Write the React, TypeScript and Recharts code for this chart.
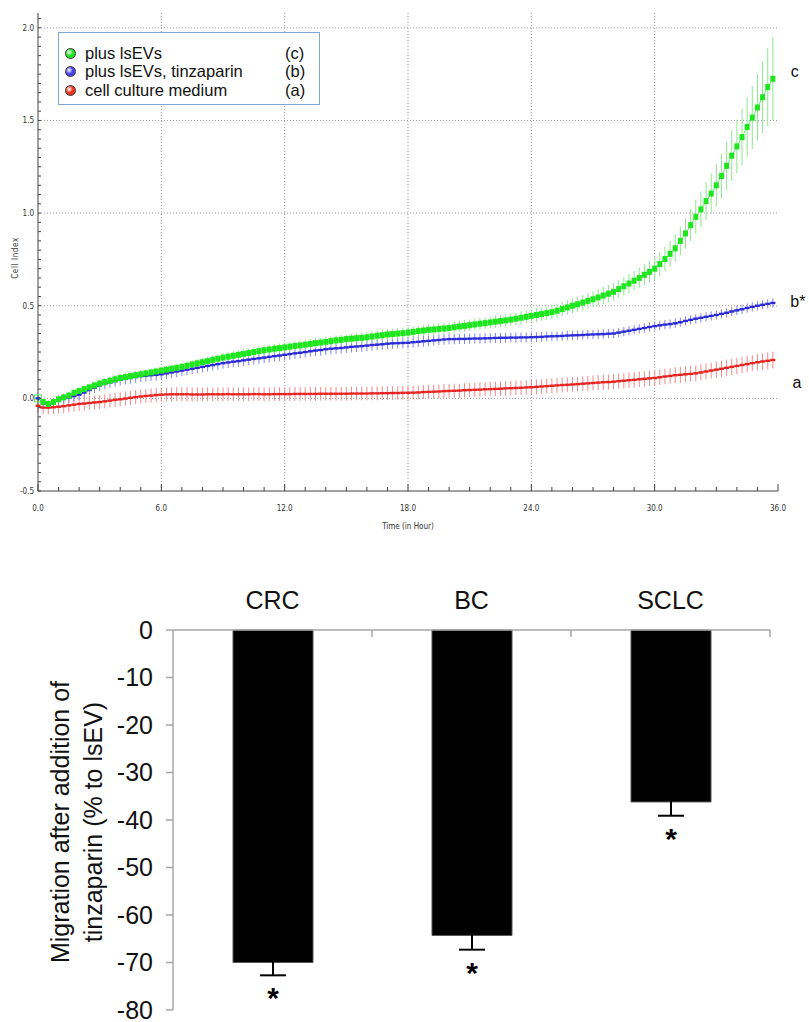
import {
  Bar, BarChart, ErrorBar, LabelList, Legend, Line, LineChart, ReferenceLine, XAxis, YAxis,
} from 'recharts'

// ---- top panel: cell index over time (one reading every 15 min) ----
const GREEN = [
  0.00, -0.02, -0.03, -0.02,
  -0.005, 0.005, 0.015, 0.03,
  0.04, 0.05, 0.06, 0.07,
  0.08, 0.088, 0.095, 0.103,
  0.11, 0.115, 0.12, 0.125,
  0.13, 0.135, 0.14, 0.145,
  0.15, 0.155, 0.16, 0.165,
  0.17, 0.176, 0.183, 0.189,
  0.195, 0.201, 0.208, 0.214,
  0.22, 0.225, 0.23, 0.235,
  0.24, 0.245, 0.25, 0.255,
  0.26, 0.264, 0.268, 0.271,
  0.275, 0.279, 0.283, 0.286,
  0.29, 0.294, 0.298, 0.301,
  0.305, 0.309, 0.313, 0.316,
  0.32, 0.322, 0.325, 0.327,
  0.33, 0.334, 0.338, 0.341,
  0.345, 0.347, 0.35, 0.352,
  0.355, 0.359, 0.363, 0.366,
  0.37, 0.372, 0.375, 0.377,
  0.38, 0.384, 0.388, 0.391,
  0.395, 0.399, 0.403, 0.406,
  0.41, 0.414, 0.418, 0.421,
  0.425, 0.43, 0.435, 0.44,
  0.445, 0.45, 0.455, 0.46,
  0.465, 0.473, 0.482, 0.491,
  0.50, 0.508, 0.517, 0.526,
  0.535, 0.545, 0.555, 0.565,
  0.575, 0.59, 0.605, 0.62,
  0.635, 0.65, 0.667, 0.683,
  0.70, 0.725, 0.752, 0.78,
  0.81, 0.85, 0.89, 0.935,
  0.98, 1.02, 1.065, 1.105,
  1.15, 1.2, 1.255, 1.31,
  1.36, 1.41, 1.465, 1.515,
  1.57, 1.625, 1.68, 1.725,
]
const GREEN_ERR = [
  0.012, 0.015, 0.016, 0.016, 0.017, 0.017, 0.018, 0.018,
  0.018, 0.019, 0.019, 0.02, 0.02, 0.02, 0.02, 0.02,
  0.02, 0.021, 0.021, 0.021, 0.021, 0.021, 0.022, 0.022,
  0.022, 0.022, 0.022, 0.022, 0.022, 0.023, 0.023, 0.023,
  0.023, 0.023, 0.023, 0.024, 0.024, 0.024, 0.024, 0.024,
  0.024, 0.024, 0.025, 0.025, 0.025, 0.025, 0.025, 0.025,
  0.025, 0.025, 0.026, 0.026, 0.026, 0.026, 0.026, 0.026,
  0.026, 0.026, 0.027, 0.027, 0.027, 0.027, 0.027, 0.027,
  0.027, 0.028, 0.028, 0.028, 0.028, 0.028, 0.028, 0.029,
  0.029, 0.029, 0.029, 0.029, 0.029, 0.03, 0.03, 0.03,
  0.03, 0.03, 0.031, 0.031, 0.031, 0.031, 0.032, 0.032,
  0.032, 0.033, 0.033, 0.033, 0.034, 0.034, 0.035, 0.035,
  0.035, 0.036, 0.036, 0.037, 0.037, 0.038, 0.039, 0.04,
  0.04, 0.041, 0.042, 0.043, 0.044, 0.045, 0.046, 0.047,
  0.048, 0.049, 0.05, 0.052, 0.053, 0.055, 0.057, 0.059,
  0.061, 0.064, 0.067, 0.07, 0.074, 0.078, 0.082, 0.087,
  0.092, 0.097, 0.103, 0.109, 0.115, 0.122, 0.129, 0.137,
  0.145, 0.153, 0.161, 0.17, 0.18, 0.195, 0.21, 0.225,
]
const BLUE = [
  0.00, -0.025, -0.035, -0.025,
  -0.01, 0.0, 0.005, 0.012,
  0.02, 0.032, 0.045, 0.058,
  0.07, 0.078, 0.086, 0.093,
  0.10, 0.105, 0.11, 0.115,
  0.12, 0.122, 0.125, 0.127,
  0.13, 0.135, 0.14, 0.145,
  0.15, 0.155, 0.16, 0.165,
  0.17, 0.175, 0.18, 0.185,
  0.19, 0.194, 0.198, 0.201,
  0.205, 0.209, 0.213, 0.216,
  0.22, 0.224, 0.228, 0.231,
  0.235, 0.239, 0.243, 0.246,
  0.25, 0.254, 0.258, 0.261,
  0.265, 0.268, 0.27, 0.272,
  0.275, 0.278, 0.28, 0.282,
  0.285, 0.288, 0.29, 0.292,
  0.295, 0.297, 0.298, 0.299,
  0.30, 0.303, 0.305, 0.308,
  0.31, 0.313, 0.315, 0.318,
  0.32, 0.32, 0.321, 0.321,
  0.322, 0.323, 0.323, 0.324,
  0.325, 0.326, 0.327, 0.327,
  0.328, 0.328, 0.329, 0.329,
  0.33, 0.331, 0.332, 0.334,
  0.335, 0.336, 0.337, 0.339,
  0.34, 0.341, 0.342, 0.344,
  0.345, 0.346, 0.347, 0.349,
  0.35, 0.355, 0.36, 0.365,
  0.37, 0.375, 0.38, 0.385,
  0.39, 0.394, 0.398, 0.401,
  0.405, 0.411, 0.418, 0.424,
  0.43, 0.435, 0.44, 0.445,
  0.45, 0.456, 0.462, 0.469,
  0.475, 0.481, 0.488, 0.494,
  0.50, 0.505, 0.51, 0.515,
]
const BLUE_ERR = [
  0.02, 0.022, 0.024, 0.025, 0.026, 0.026, 0.027, 0.027,
  0.028, 0.028, 0.029, 0.029, 0.03, 0.03, 0.03, 0.03,
  0.03, 0.03, 0.031, 0.031, 0.031, 0.031, 0.031, 0.031,
  0.031, 0.031, 0.031, 0.031, 0.03, 0.03, 0.03, 0.03,
  0.03, 0.03, 0.03, 0.03, 0.03, 0.03, 0.03, 0.03,
  0.03, 0.03, 0.03, 0.03, 0.03, 0.03, 0.03, 0.03,
  0.03, 0.03, 0.03, 0.03, 0.03, 0.03, 0.03, 0.03,
  0.03, 0.03, 0.03, 0.03, 0.03, 0.03, 0.03, 0.03,
  0.03, 0.03, 0.03, 0.03, 0.03, 0.03, 0.029, 0.029,
  0.029, 0.029, 0.029, 0.029, 0.028, 0.028, 0.028, 0.028,
  0.028, 0.028, 0.028, 0.028, 0.027, 0.027, 0.027, 0.027,
  0.027, 0.027, 0.027, 0.027, 0.026, 0.026, 0.026, 0.026,
  0.026, 0.026, 0.026, 0.026, 0.025, 0.025, 0.025, 0.025,
  0.025, 0.025, 0.025, 0.025, 0.025, 0.025, 0.025, 0.025,
  0.025, 0.025, 0.025, 0.025, 0.025, 0.025, 0.025, 0.025,
  0.025, 0.025, 0.025, 0.025, 0.025, 0.025, 0.025, 0.025,
  0.025, 0.025, 0.025, 0.025, 0.025, 0.025, 0.025, 0.025,
  0.025, 0.025, 0.025, 0.025, 0.025, 0.025, 0.025, 0.025,
]
const RED = [
  -0.04, -0.05, -0.05, -0.048,
  -0.045, -0.042, -0.038, -0.034,
  -0.03, -0.028, -0.025, -0.022,
  -0.02, -0.016, -0.012, -0.008,
  -0.005, -0.001, 0.003, 0.007,
  0.01, 0.013, 0.015, 0.018,
  0.02, 0.021, 0.022, 0.022,
  0.022, 0.022, 0.021, 0.021,
  0.021, 0.022, 0.022, 0.022,
  0.022, 0.023, 0.022, 0.022,
  0.022, 0.022, 0.023, 0.023,
  0.022, 0.022, 0.023, 0.023,
  0.023, 0.023, 0.024, 0.024,
  0.024, 0.024, 0.024, 0.025,
  0.025, 0.025, 0.025, 0.025,
  0.025, 0.026, 0.026, 0.026,
  0.026, 0.027, 0.027, 0.028,
  0.028, 0.029, 0.029, 0.03,
  0.03, 0.031, 0.032, 0.034,
  0.035, 0.036, 0.037, 0.039,
  0.04, 0.041, 0.042, 0.044,
  0.045, 0.046, 0.047, 0.049,
  0.05, 0.051, 0.052, 0.054,
  0.055, 0.056, 0.057, 0.059,
  0.06, 0.062, 0.064, 0.066,
  0.068, 0.07, 0.072, 0.073,
  0.075, 0.077, 0.079, 0.081,
  0.083, 0.085, 0.087, 0.088,
  0.09, 0.093, 0.095, 0.098,
  0.10, 0.103, 0.105, 0.108,
  0.11, 0.114, 0.118, 0.121,
  0.125, 0.127, 0.13, 0.132,
  0.135, 0.14, 0.145, 0.15,
  0.155, 0.16, 0.165, 0.17,
  0.175, 0.18, 0.185, 0.19,
  0.195, 0.199, 0.203, 0.207,
]
const RED_ERR = [
  0.035, 0.036, 0.036, 0.037, 0.037, 0.037, 0.038, 0.038,
  0.038, 0.038, 0.038, 0.038, 0.038, 0.038, 0.038, 0.038,
  0.038, 0.038, 0.038, 0.038, 0.038, 0.038, 0.038, 0.038,
  0.038, 0.038, 0.038, 0.038, 0.038, 0.038, 0.038, 0.038,
  0.037, 0.037, 0.037, 0.037, 0.037, 0.037, 0.037, 0.037,
  0.037, 0.037, 0.037, 0.037, 0.037, 0.037, 0.037, 0.037,
  0.037, 0.037, 0.037, 0.037, 0.037, 0.037, 0.037, 0.037,
  0.037, 0.037, 0.037, 0.037, 0.037, 0.037, 0.037, 0.037,
  0.037, 0.037, 0.037, 0.037, 0.037, 0.037, 0.037, 0.037,
  0.037, 0.037, 0.037, 0.037, 0.038, 0.038, 0.038, 0.038,
  0.038, 0.038, 0.038, 0.038, 0.038, 0.038, 0.038, 0.038,
  0.039, 0.039, 0.039, 0.039, 0.039, 0.039, 0.039, 0.039,
  0.04, 0.04, 0.04, 0.04, 0.04, 0.04, 0.04, 0.04,
  0.04, 0.04, 0.04, 0.04, 0.041, 0.041, 0.041, 0.041,
  0.041, 0.041, 0.041, 0.041, 0.042, 0.042, 0.042, 0.042,
  0.042, 0.042, 0.042, 0.042, 0.043, 0.043, 0.043, 0.043,
  0.043, 0.043, 0.043, 0.043, 0.044, 0.044, 0.044, 0.044,
  0.044, 0.044, 0.044, 0.044, 0.045, 0.045, 0.045, 0.045,
]
const STEP_H = 0.25
const HOUR_TICKS = Array.from({ length: 37 }, (_, i) => i)
const CI_TICKS = Array.from({ length: 52 }, (_, i) => Math.round((-0.5 + i * 0.05) * 100) / 100)
const CI_GRID = [0, 0.5, 1.0, 1.5, 2.0]
const HOUR_GRID = [6, 12, 18, 24, 30]

const LEGEND_ROWS = [
  { name: 'plus lsEVs', tag: '(c)', color: '#1ee61e' },
  { name: 'plus lsEVs, tinzaparin', tag: '(b)', color: '#4a3ff0' },
  { name: 'cell culture medium', tag: '(a)', color: '#f0321e' },
]

// ---- bottom panel: migration change ----
const CANCERS = ['CRC', 'BC', 'SCLC']
const MIGRATION = [-70, -64.3, -36.2]
const MIGRATION_ERR = [2.7, 3.0, 2.9]
const MIG_TICKS = [0, -10, -20, -30, -40, -50, -60, -70, -80]

const G = '#1ee61e', G_LINE = '#6cec6c', G_ERR = '#8de88d'
const B = '#2a2ad8', B_LINE = '#3b3bd8', B_ERR = '#7f86e6'
const R = '#e8221e', R_LINE = '#ec3a36', R_ERR = '#f08a8a'
const AX = '#444'
const SMALL = "'DejaVu Sans Condensed', 'DejaVu Sans', sans-serif"
const ARIAL = "'Liberation Sans', Arial, sans-serif"

const rows = GREEN.map((g, i) => ({
  t: i * STEP_H,
  green: g, greenErr: GREEN_ERR[i],
  blue: BLUE[i], blueErr: BLUE_ERR[i],
  red: RED[i], redErr: RED_ERR[i],
}))
const LAST = GREEN.length - 1

function greenDot(p: any) {
  const { cx, cy, index } = p
  if (index === 0) return <rect key={`g${index}`} x={cx - 3.5} y={cy - 3.5} width={7} height={7} fill="none" stroke="#5ee65e" />
  return <rect key={`g${index}`} x={cx - 2.5} y={cy - 3} width={5} height={6} fill={G} />
}
const dashDot = (color: string) => (p: any) => (
  <rect key={`d${p.index}`} x={p.cx - 2.5} y={p.cy - 1.2} width={5} height={2.4} fill={color} />
)
const endTag = (txt: string, dx: number, dy: number) => (p: any) =>
  p.index === LAST ? (
    <text key="tag" x={p.x + dx} y={p.y + dy} textAnchor="middle" dominantBaseline="central"
      fontFamily={ARIAL} fontSize={16} fill="#111">{txt}</text>
  ) : null

function BottomTick(p: any) {
  const { x, y, payload } = p
  const major = payload.value % 6 === 0
  return (
    <g>
      <line x1={x} x2={x} y1={y} y2={y - (major ? 7 : 4)} stroke={AX} />
      {major && <text x={x} y={y + 20} textAnchor="middle" fontFamily={SMALL} fontSize={8} fill="#333">{payload.value.toFixed(1)}</text>}
    </g>
  )
}
function TopTick(p: any) {
  const { x, y, payload } = p
  const major = payload.value % 6 === 0
  return <line x1={x} x2={x} y1={y} y2={y + (major ? 7 : 4)} stroke={AX} />
}
function LeftTick(p: any) {
  const { x, y, payload } = p
  const v = payload.value
  const major = Math.abs(v * 2 - Math.round(v * 2)) < 1e-6
  return (
    <g>
      <line x1={x} x2={x + 3} y1={y} y2={y} stroke={AX} />
      {major && <text x={x - 4} y={y + 3} textAnchor="end" fontFamily={SMALL} fontSize={8} fill="#333">{v.toFixed(1)}</text>}
    </g>
  )
}

function CellLegend() {
  return (
    <div style={{ border: '1px solid #7ea7d8', background: '#fff', width: 262, height: 73, boxSizing: 'border-box', padding: '11px 0 0 6px', fontFamily: ARIAL, fontSize: 16.5, color: '#111' }}>
      {LEGEND_ROWS.map((r) => (
        <div key={r.name} style={{ display: 'flex', alignItems: 'center', height: 18.5 }}>
          <span style={{ width: 11, height: 11, borderRadius: '50%', border: '1px solid #333', boxSizing: 'border-box', background: `radial-gradient(circle at 35% 35%, #fff 0%, ${r.color} 45%, ${r.color} 100%)`, marginRight: 9 }} />
          <span style={{ width: 200 }}>{r.name}</span>
          <span>{r.tag}</span>
        </div>
      ))}
    </div>
  )
}

function CellIndexChart() {
  return (
    <LineChart width={809} height={545} data={rows} margin={{ top: 13, right: 31, bottom: 14, left: 8 }}>
      <XAxis xAxisId="b" dataKey="t" type="number" domain={[0, 36]} ticks={HOUR_TICKS} interval={0}
        height={40} tickSize={0} tickMargin={0} tick={BottomTick} axisLine={{ stroke: AX }}
        label={{ value: 'Time (in Hour)', position: 'insideBottom', offset: 2, fontFamily: SMALL, fontSize: 8, fill: '#333' }} />
      <XAxis xAxisId="top" orientation="top" type="number" domain={[0, 36]} ticks={HOUR_TICKS} interval={0}
        height={0} tickSize={0} tickMargin={0} tick={TopTick} axisLine={{ stroke: AX }} />
      <YAxis yAxisId="l" type="number" domain={[-0.5, 2.08]} ticks={CI_TICKS} interval={0} width={30}
        tickSize={0} tickMargin={0} tick={LeftTick} axisLine={{ stroke: AX }}
        label={(p: any) => (
          <text x={15} y={p.viewBox.y + p.viewBox.height / 2 + 6} transform={`rotate(-90 15 ${p.viewBox.y + p.viewBox.height / 2 + 6})`}
            textAnchor="middle" dominantBaseline="central" fontFamily={SMALL} fontSize={8} letterSpacing={0.6} fill="#333">Cell Index</text>
        )} />
      <YAxis yAxisId="r" orientation="right" type="number" domain={[-0.5, 2.08]} width={0} tick={false} tickLine={false} axisLine={{ stroke: AX }} />
      {HOUR_GRID.map((h) => (
        <ReferenceLine key={`v${h}`} xAxisId="b" yAxisId="l" x={h} stroke="#9a9a9a" strokeDasharray="1 2" />
      ))}
      {CI_GRID.map((v) => (
        <ReferenceLine key={`h${v}`} xAxisId="b" yAxisId="l" y={v} stroke="#9a9a9a" strokeDasharray="1 2" />
      ))}
      <Legend layout="vertical" align="center" verticalAlign="middle" content={<CellLegend />}
        wrapperStyle={{ position: 'absolute', left: 58, top: 32, width: 262, height: 73 }} />
      <Line xAxisId="b" yAxisId="l" type="linear" dataKey="red" name="cell culture medium" stroke={R_LINE} strokeWidth={1}
        dot={dashDot(R)} activeDot={false} isAnimationActive={false} label={endTag('a', 24, 22)}>
        <ErrorBar dataKey="redErr" width={0} stroke={R_ERR} strokeWidth={1} />
      </Line>
      <Line xAxisId="b" yAxisId="l" type="linear" dataKey="blue" name="plus lsEVs, tinzaparin" stroke={B_LINE} strokeWidth={1}
        dot={dashDot(B)} activeDot={false} isAnimationActive={false} label={endTag('b*', 25, -1)}>
        <ErrorBar dataKey="blueErr" width={0} stroke={B_ERR} strokeWidth={1} />
      </Line>
      <Line xAxisId="b" yAxisId="l" type="linear" dataKey="green" name="plus lsEVs" stroke={G_LINE} strokeWidth={1}
        dot={greenDot} activeDot={false} isAnimationActive={false} label={endTag('c', 22, -7)}>
        <ErrorBar dataKey="greenErr" width={0} stroke={G_ERR} strokeWidth={1} />
      </Line>
    </LineChart>
  )
}

const barRows = CANCERS.map((c, i) => ({ name: c, value: MIGRATION[i], err: MIGRATION_ERR[i] }))

function CatTick(p: any) {
  const { x, y, payload, width, visibleTicksCount } = p
  const half = payload.offset || width / (visibleTicksCount || 3) / 2
  return (
    <g>
      <text x={x} y={y - 21} textAnchor="middle" fontFamily={ARIAL} fontSize={25} fill="#111">{payload.value}</text>
      <line x1={x + half} x2={x + half} y1={y} y2={y + 7} stroke="#a6a6a6" strokeWidth={1.5} />
    </g>
  )
}

function Star(p: any) {
  const { x, y, width, height, value, index } = p
  const v = Array.isArray(value) ? value[1] - value[0] : value
  const bottom = Math.max(y, y + height)
  const errPx = MIGRATION_ERR[index] * Math.abs(height / v)
  return (
    <text key={`s${index}`} x={x + width / 2} y={bottom + errPx + 33} textAnchor="middle"
      fontFamily={ARIAL} fontWeight="bold" fontSize={30} fill="#000">*</text>
  )
}

function MigrationChart() {
  return (
    <BarChart width={809} height={477} data={barRows} margin={{ top: 45, right: 39, bottom: 12, left: 0 }} barSize={80}>
      <XAxis dataKey="name" orientation="top" height={40} tickSize={0} tickMargin={0} tick={CatTick} interval={0}
        axisLine={{ stroke: '#a6a6a6', strokeWidth: 1.5 }} />
      <YAxis type="number" domain={[-80, 0]} ticks={MIG_TICKS} interval={0} width={173} tickSize={7} tickMargin={13}
        tick={{ fontFamily: ARIAL, fontSize: 25, fill: '#111' }} tickLine={{ stroke: '#a6a6a6', strokeWidth: 1.5 }}
        axisLine={{ stroke: '#a6a6a6', strokeWidth: 1.5 }}
        label={(p: any) => {
          const cy = p.viewBox.y + p.viewBox.height / 2 + 2
          return (
            <g fontFamily={ARIAL} fontSize={25} fill="#111">
              <text x={60} y={cy} transform={`rotate(-90 60 ${cy})`} textAnchor="middle" dominantBaseline="central">Migration after addition of</text>
              <text x={93} y={cy} transform={`rotate(-90 93 ${cy})`} textAnchor="middle" dominantBaseline="central">tinzaparin (% to lsEV)</text>
            </g>
          )
        }} />
      <Bar dataKey="value" fill="#000" stroke="#555" strokeWidth={1} isAnimationActive={false}>
        <ErrorBar dataKey="err" width={13} stroke="#000" strokeWidth={2} direction="y" />
        <LabelList dataKey="value" content={Star} />
      </Bar>
    </BarChart>
  )
}

export default function App() {
  return (
    <div style={{ position: 'absolute', left: 0, top: 0, width: 809, height: 1022, background: '#fff' }}>
      <CellIndexChart />
      <MigrationChart />
    </div>
  )
}
